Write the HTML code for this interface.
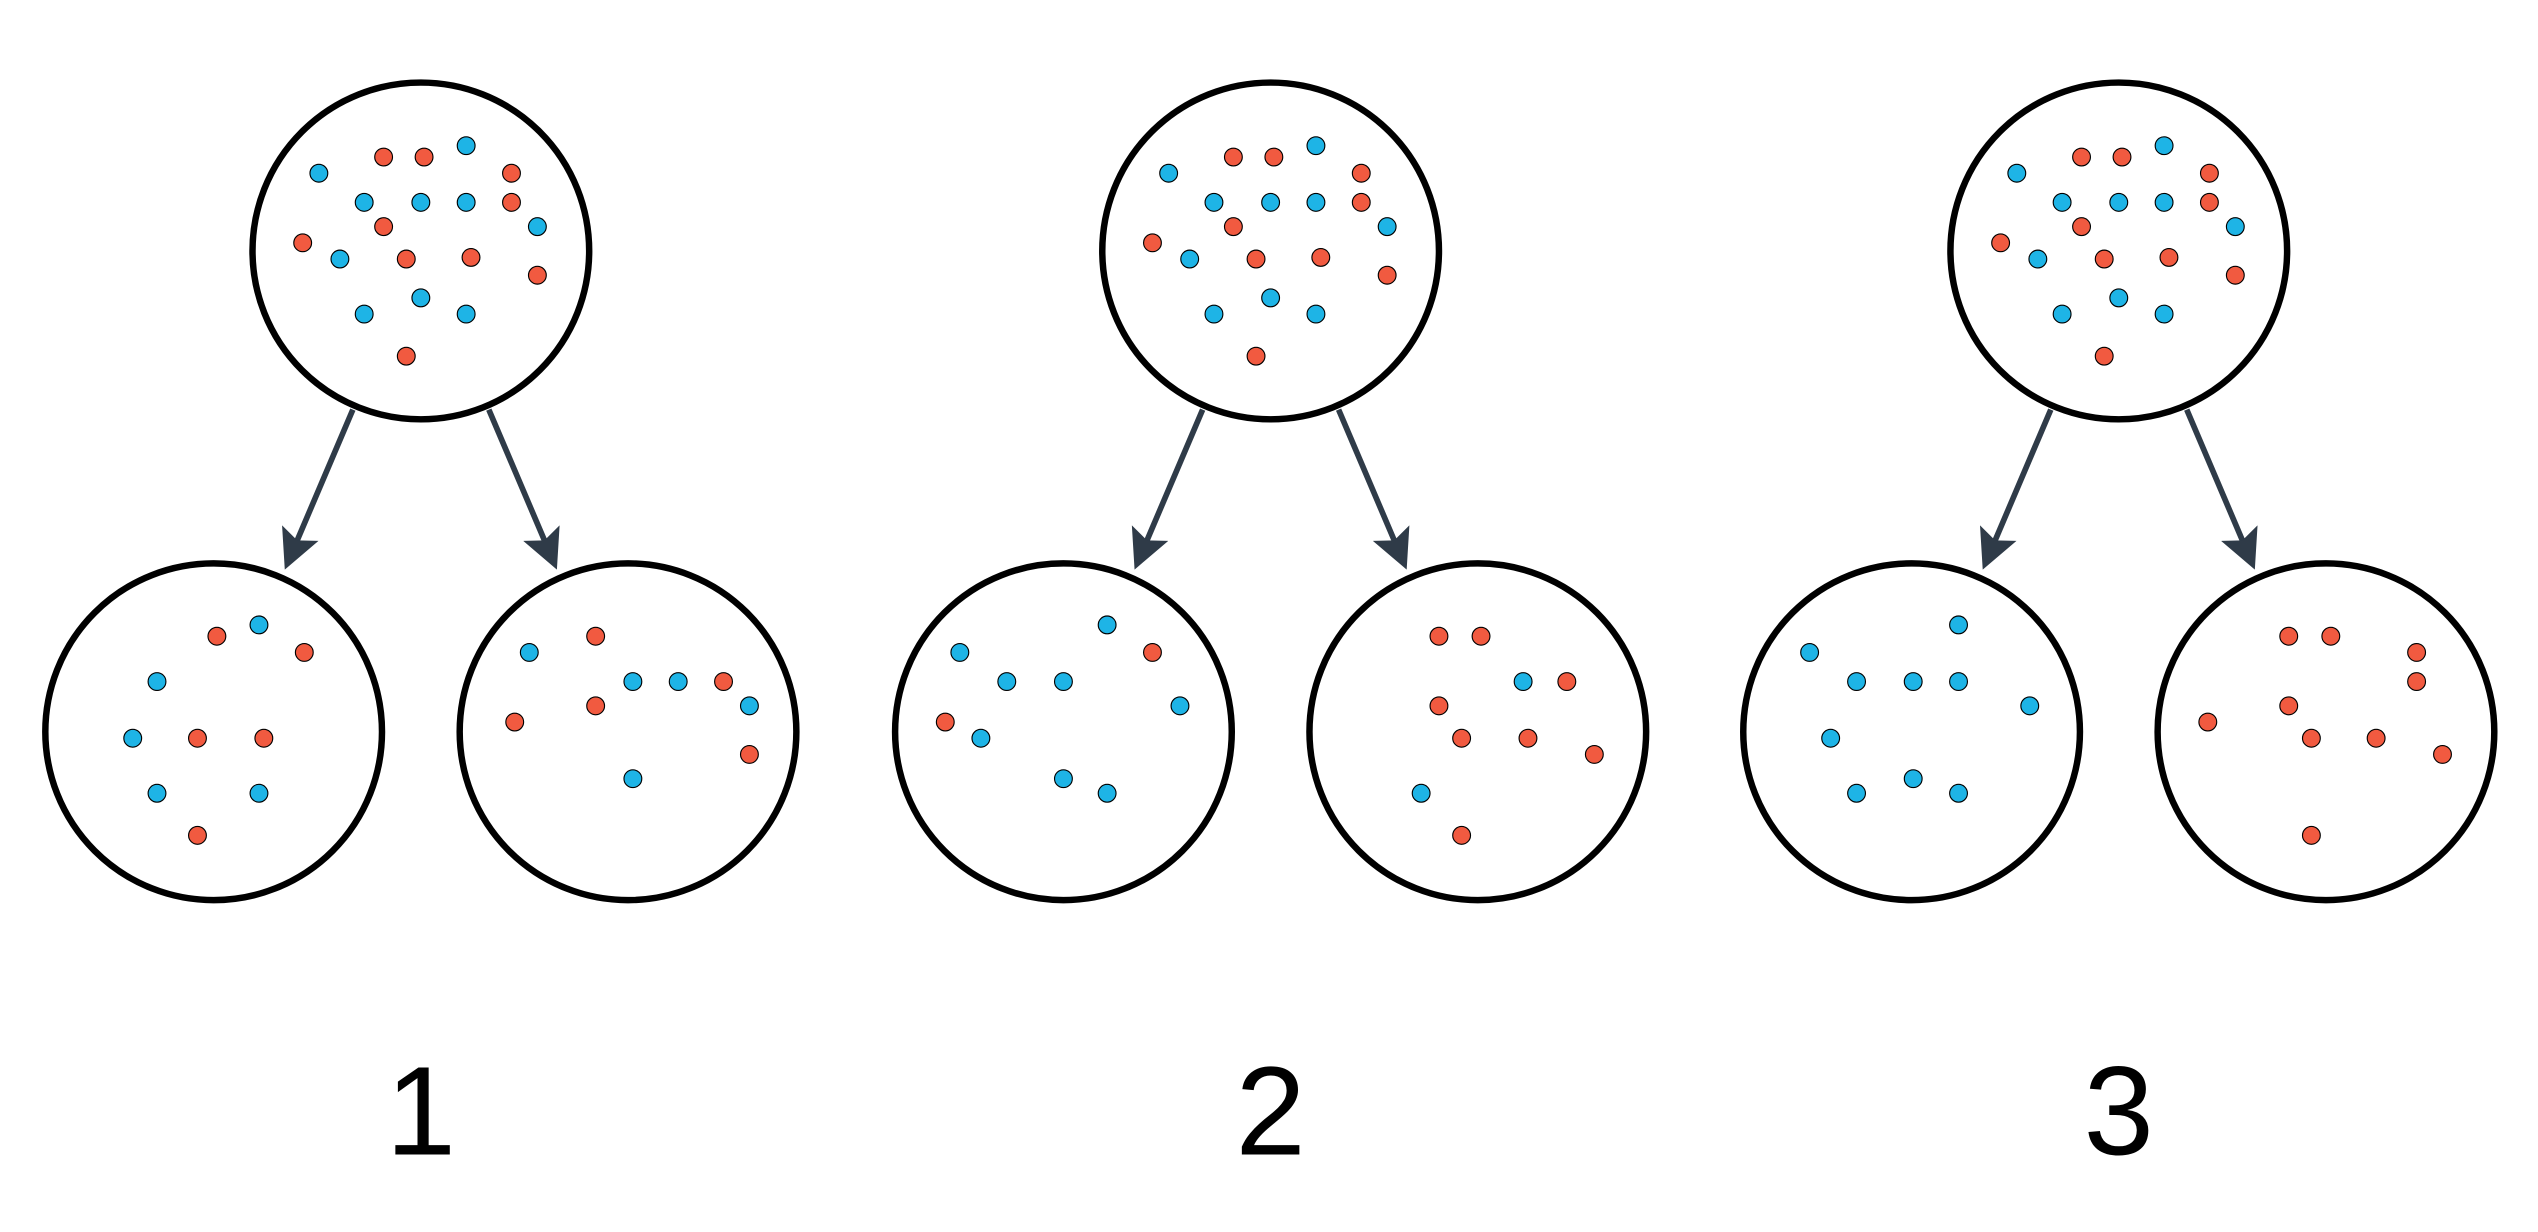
<!DOCTYPE html>
<html><head><meta charset="utf-8"><style>
html,body{margin:0;padding:0;background:#fff;}
svg{display:block;}
</style></head><body>
<svg width="2538" height="1232" viewBox="0 0 1568 761" preserveAspectRatio="none" xmlns="http://www.w3.org/2000/svg">
<defs>
<marker id="ah" markerWidth="7" markerHeight="7" refX="5.5" refY="3.5" orient="auto" markerUnits="strokeWidth">
<path d="M0,0 L7,3.5 L0,7 L1.4,3.5 Z" fill="#2f3b48"/>
</marker>
<g id="top">
<circle cx="0" cy="0" r="104" fill="none" stroke="#000" stroke-width="4"/>
<g stroke="#000" stroke-width="0.7">
<circle cx="-63" cy="-48" r="5.5" fill="#1eb4e6"/>
<circle cx="-23" cy="-58" r="5.5" fill="#f15a40"/>
<circle cx="2" cy="-58" r="5.5" fill="#f15a40"/>
<circle cx="28" cy="-65" r="5.5" fill="#1eb4e6"/>
<circle cx="56" cy="-48" r="5.5" fill="#f15a40"/>
<circle cx="-35" cy="-30" r="5.5" fill="#1eb4e6"/>
<circle cx="0" cy="-30" r="5.5" fill="#1eb4e6"/>
<circle cx="28" cy="-30" r="5.5" fill="#1eb4e6"/>
<circle cx="56" cy="-30" r="5.5" fill="#f15a40"/>
<circle cx="72" cy="-15" r="5.5" fill="#1eb4e6"/>
<circle cx="-23" cy="-15" r="5.5" fill="#f15a40"/>
<circle cx="-73" cy="-5" r="5.5" fill="#f15a40"/>
<circle cx="-50" cy="5" r="5.5" fill="#1eb4e6"/>
<circle cx="-9" cy="5" r="5.5" fill="#f15a40"/>
<circle cx="31" cy="4" r="5.5" fill="#f15a40"/>
<circle cx="72" cy="15" r="5.5" fill="#f15a40"/>
<circle cx="-35" cy="39" r="5.5" fill="#1eb4e6"/>
<circle cx="0" cy="29" r="5.5" fill="#1eb4e6"/>
<circle cx="28" cy="39" r="5.5" fill="#1eb4e6"/>
<circle cx="-9" cy="65" r="5.5" fill="#f15a40"/>
</g>
</g>
<g id="arrows">
<line x1="-42" y1="98" x2="-82" y2="192" stroke="#2f3b48" stroke-width="3.5" marker-end="url(#ah)"/>
<line x1="42" y1="98" x2="82" y2="192" stroke="#2f3b48" stroke-width="3.5" marker-end="url(#ah)"/>
</g>
<circle id="ring" cx="0" cy="0" r="104" fill="none" stroke="#000" stroke-width="4"/>
</defs>
<use href="#top" x="260" y="155"/>
<use href="#arrows" x="260" y="155"/>
<use href="#ring" x="132" y="452"/>
<use href="#ring" x="388" y="452"/>
<use href="#top" x="785" y="155"/>
<use href="#arrows" x="785" y="155"/>
<use href="#ring" x="657" y="452"/>
<use href="#ring" x="913" y="452"/>
<use href="#top" x="1309" y="155"/>
<use href="#arrows" x="1309" y="155"/>
<use href="#ring" x="1181" y="452"/>
<use href="#ring" x="1437" y="452"/>
<g stroke="#000" stroke-width="0.7">
<circle cx="134" cy="393" r="5.5" fill="#f15a40"/>
<circle cx="160" cy="386" r="5.5" fill="#1eb4e6"/>
<circle cx="188" cy="403" r="5.5" fill="#f15a40"/>
<circle cx="97" cy="421" r="5.5" fill="#1eb4e6"/>
<circle cx="82" cy="456" r="5.5" fill="#1eb4e6"/>
<circle cx="122" cy="456" r="5.5" fill="#f15a40"/>
<circle cx="163" cy="456" r="5.5" fill="#f15a40"/>
<circle cx="97" cy="490" r="5.5" fill="#1eb4e6"/>
<circle cx="160" cy="490" r="5.5" fill="#1eb4e6"/>
<circle cx="122" cy="516" r="5.5" fill="#f15a40"/>
<circle cx="327" cy="403" r="5.5" fill="#1eb4e6"/>
<circle cx="368" cy="393" r="5.5" fill="#f15a40"/>
<circle cx="391" cy="421" r="5.5" fill="#1eb4e6"/>
<circle cx="419" cy="421" r="5.5" fill="#1eb4e6"/>
<circle cx="447" cy="421" r="5.5" fill="#f15a40"/>
<circle cx="463" cy="436" r="5.5" fill="#1eb4e6"/>
<circle cx="318" cy="446" r="5.5" fill="#f15a40"/>
<circle cx="368" cy="436" r="5.5" fill="#f15a40"/>
<circle cx="463" cy="466" r="5.5" fill="#f15a40"/>
<circle cx="391" cy="481" r="5.5" fill="#1eb4e6"/>
<circle cx="684" cy="386" r="5.5" fill="#1eb4e6"/>
<circle cx="712" cy="403" r="5.5" fill="#f15a40"/>
<circle cx="593" cy="403" r="5.5" fill="#1eb4e6"/>
<circle cx="622" cy="421" r="5.5" fill="#1eb4e6"/>
<circle cx="657" cy="421" r="5.5" fill="#1eb4e6"/>
<circle cx="729" cy="436" r="5.5" fill="#1eb4e6"/>
<circle cx="584" cy="446" r="5.5" fill="#f15a40"/>
<circle cx="606" cy="456" r="5.5" fill="#1eb4e6"/>
<circle cx="657" cy="481" r="5.5" fill="#1eb4e6"/>
<circle cx="684" cy="490" r="5.5" fill="#1eb4e6"/>
<circle cx="889" cy="393" r="5.5" fill="#f15a40"/>
<circle cx="915" cy="393" r="5.5" fill="#f15a40"/>
<circle cx="941" cy="421" r="5.5" fill="#1eb4e6"/>
<circle cx="968" cy="421" r="5.5" fill="#f15a40"/>
<circle cx="889" cy="436" r="5.5" fill="#f15a40"/>
<circle cx="903" cy="456" r="5.5" fill="#f15a40"/>
<circle cx="944" cy="456" r="5.5" fill="#f15a40"/>
<circle cx="985" cy="466" r="5.5" fill="#f15a40"/>
<circle cx="878" cy="490" r="5.5" fill="#1eb4e6"/>
<circle cx="903" cy="516" r="5.5" fill="#f15a40"/>
<circle cx="1210" cy="386" r="5.5" fill="#1eb4e6"/>
<circle cx="1118" cy="403" r="5.5" fill="#1eb4e6"/>
<circle cx="1147" cy="421" r="5.5" fill="#1eb4e6"/>
<circle cx="1182" cy="421" r="5.5" fill="#1eb4e6"/>
<circle cx="1210" cy="421" r="5.5" fill="#1eb4e6"/>
<circle cx="1254" cy="436" r="5.5" fill="#1eb4e6"/>
<circle cx="1131" cy="456" r="5.5" fill="#1eb4e6"/>
<circle cx="1147" cy="490" r="5.5" fill="#1eb4e6"/>
<circle cx="1182" cy="481" r="5.5" fill="#1eb4e6"/>
<circle cx="1210" cy="490" r="5.5" fill="#1eb4e6"/>
<circle cx="1414" cy="393" r="5.5" fill="#f15a40"/>
<circle cx="1440" cy="393" r="5.5" fill="#f15a40"/>
<circle cx="1493" cy="403" r="5.5" fill="#f15a40"/>
<circle cx="1493" cy="421" r="5.5" fill="#f15a40"/>
<circle cx="1414" cy="436" r="5.5" fill="#f15a40"/>
<circle cx="1364" cy="446" r="5.5" fill="#f15a40"/>
<circle cx="1428" cy="456" r="5.5" fill="#f15a40"/>
<circle cx="1468" cy="456" r="5.5" fill="#f15a40"/>
<circle cx="1509" cy="466" r="5.5" fill="#f15a40"/>
<circle cx="1428" cy="516" r="5.5" fill="#f15a40"/>
</g>
<g font-family="Liberation Sans, sans-serif" font-size="78" fill="#000" text-anchor="middle">
<text x="260" y="713">1</text>
<text x="785" y="713">2</text>
<text x="1309" y="713">3</text>
</g>
</svg>
</body></html>
